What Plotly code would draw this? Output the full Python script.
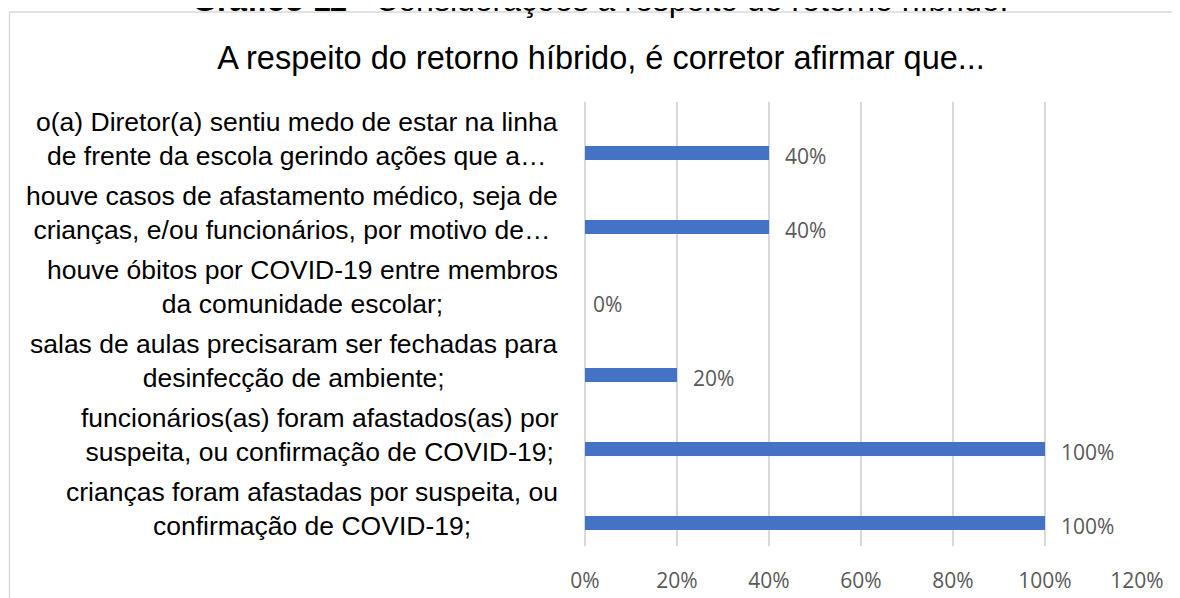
import plotly.graph_objects as go

# Categories listed bottom-to-top (as drawn on the category axis)
categories = [
    "crianças foram afastadas por suspeita, ou<br>confirmação de COVID-19;",
    "funcionários(as) foram afastados(as) por<br>suspeita, ou confirmação de COVID-19;",
    "salas de aulas precisaram ser fechadas para<br>desinfecção de ambiente;",
    "houve óbitos por COVID-19 entre membros<br>da comunidade escolar;",
    "houve casos de afastamento médico, seja de<br>crianças, e/ou funcionários, por motivo de…",
    "o(a) Diretor(a) sentiu medo de estar na linha<br>de frente da escola gerindo ações que a…",
]
values = [100, 100, 20, 0, 40, 40]  # percent
x_ticks = [0, 20, 40, 60, 80, 100, 120]
x_tick_labels = ["0%", "20%", "40%", "60%", "80%", "100%", "120%"]

title_text = "A respeito do retorno híbrido, é corretor afirmar que..."
caption_text = "<b>Gráfico 11</b> - Considerações a respeito do retorno híbrido."

BAR_COLOR = "#4472C4"
GRID = "#d9d9d9"
LABEL_FONT = "Liberation Sans, Arial, sans-serif"
NUM_FONT = "Open Sans, Lato, sans-serif"

# plot area geometry (figure pixels)
ML, MR, MT, MB = 577, 51, 94, 60
W, H = 1180, 598
PW, PH = W - ML - MR, H - MT - MB


def px_x(p):
    return (p - ML) / PW


def px_y(p):
    return (H - MB - p) / PH


fig = go.Figure()
fig.add_trace(go.Bar(
    x=values, y=categories, orientation="h",
    marker=dict(color=BAR_COLOR, line=dict(width=0)),
    width=0.19, offset=-0.285,
    hoverinfo="skip",
))

annotations = []
# category labels (centered lines, block right-aligned next to the plot)
for cat in categories:
    annotations.append(dict(
        text=cat, xref="paper", x=0, xanchor="right", xshift=-25,
        yref="y", y=cat, yanchor="middle", align="center", showarrow=False,
        font=dict(family=LABEL_FONT, size=26.5, color="#000000"),
    ))
# data labels
for cat, v in zip(categories, values):
    annotations.append(dict(
        text=f"{v}%", xref="x", x=v, xanchor="left", xshift=14 if v > 0 else 6,
        yref="y", y=cat, yanchor="middle", yshift=-17, showarrow=False,
        font=dict(family=NUM_FONT, size=21, color="#595959"),
    ))
# cut-off caption above the chart box
annotations.append(dict(
    text=caption_text, xref="paper", x=px_x(592), xanchor="center",
    yref="paper", y=px_y(-7.5), yanchor="middle", showarrow=False,
    font=dict(family=LABEL_FONT, size=32, color="#000000"),
))

fig.update_layout(
    width=W, height=H,
    margin=dict(l=ML, r=MR, t=MT, b=MB),
    paper_bgcolor="white", plot_bgcolor="white",
    showlegend=False,
    title=dict(text=title_text, x=593 / W, xanchor="center", y=1 - 50 / H, yanchor="middle",
               font=dict(family=LABEL_FONT, size=32.5, color="#000000")),
    xaxis=dict(range=[0, 120], tickmode="array", tickvals=x_ticks, ticktext=x_tick_labels,
               showgrid=True, gridcolor=GRID, gridwidth=1.5,
               zeroline=True, zerolinecolor=GRID, zerolinewidth=1.5,
               showline=False, ticks="", ticklabelstandoff=20,
               tickfont=dict(family=NUM_FONT, size=21, color="#595959")),
    yaxis=dict(type="category", range=[-0.5, 5.5], showticklabels=False,
               showgrid=False, zeroline=False, showline=False, ticks=""),
    annotations=annotations,
    shapes=[dict(type="rect", xref="paper", yref="paper",
                 x0=px_x(1.5), x1=px_x(1210),
                 y0=px_y(630), y1=px_y(4),
                 line=dict(color=GRID, width=1.5), fillcolor="rgba(0,0,0,0)", layer="below")],
)

fig.write_html("out.html")
